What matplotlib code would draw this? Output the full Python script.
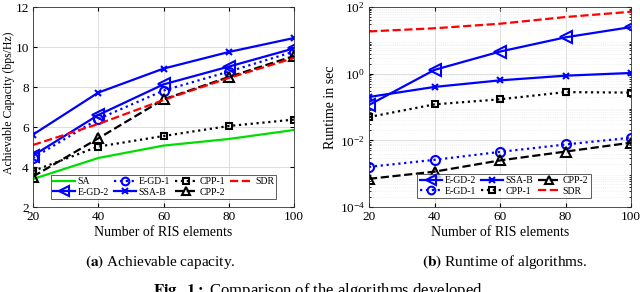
import matplotlib
matplotlib.use("Agg")
import matplotlib.pyplot as plt
import numpy as np

plt.rcParams["font.family"] = ["Liberation Serif", "DejaVu Serif"]
plt.rcParams["mathtext.fontset"] = "stix"

# RIS elements
n_ris = [20, 40, 60, 80, 100]

# (a) achievable capacity, bps/Hz
cap_sa = [3.4, 4.45, 5.07, 5.4, 5.85]
cap_egd1 = [4.45, 6.4, 7.82, 8.77, 9.77]
cap_cpp1 = [3.8, 5.02, 5.55, 6.05, 6.37]
cap_sdr = [5.1, 6.15, 7.35, 8.45, 9.45]
cap_egd2 = [4.57, 6.6, 8.13, 9.02, 9.93]
cap_ssab = [5.62, 7.72, 8.92, 9.75, 10.45]
cap_cpp2 = [3.52, 5.43, 7.38, 8.5, 9.55]

# (b) runtime, seconds
rt_egd2 = [0.115, 1.3, 4.6, 12.3, 25.0]
rt_ssab = [0.2, 0.4, 0.63, 0.87, 1.05]
rt_cpp2 = [0.0007, 0.00115, 0.0025, 0.0046, 0.0085]
rt_egd1 = [0.0016, 0.0026, 0.0045, 0.0075, 0.012]
rt_cpp1 = [0.05, 0.12, 0.17, 0.28, 0.27]
rt_sdr = [18.5, 23.0, 31.5, 50.0, 72.0]

styles = {
    "SA": dict(color="#00dd00", ls="-", marker=None),
    "E-GD-1": dict(color="blue", ls=":", marker="o"),
    "CPP-1": dict(color="black", ls=":", marker="s"),
    "SDR": dict(color="red", ls="--", marker=None),
    "E-GD-2": dict(color="blue", ls="-", marker="<"),
    "SSA-B": dict(color="blue", ls="-", marker="x"),
    "CPP-2": dict(color="black", ls="--", marker="^"),
}
msize = {"o": 6.5, "s": 5, "<": 8, "x": 5, "^": 7.5}


def draw(ax, name, y):
    st = styles[name]
    m = st["marker"]
    ax.plot(n_ris, y, color=st["color"], ls=st["ls"], lw=1.6,
            marker=m, ms=msize.get(m, 6), mfc="none", mew=1.5, label=name)


fig = plt.figure(figsize=(6.4, 2.92), dpi=100)
ax1 = fig.add_axes([33 / 640, 1 - 207 / 292, 261 / 640, 200 / 292])
ax2 = fig.add_axes([369 / 640, 1 - 207 / 292, 262 / 640, 200 / 292])

for name, y in [("SA", cap_sa), ("E-GD-2", cap_egd2), ("E-GD-1", cap_egd1),
                ("SSA-B", cap_ssab), ("CPP-1", cap_cpp1), ("CPP-2", cap_cpp2),
                ("SDR", cap_sdr)]:
    draw(ax1, name, y)

ax1.set_xlim(20, 100)
ax1.set_ylim(2, 12)
ax1.set_xticks(n_ris)
ax1.set_yticks([2, 4, 6, 8, 10, 12])
ax1.grid(True, color="#dddddd", lw=0.7)
ax1.set_xlabel("Number of RIS elements", fontsize=10, labelpad=2)
ax1.set_ylabel("Achievable Capacity (bps/Hz)", fontsize=8.5)
ax1.yaxis.set_label_coords(-0.07, 0.52)
leg_kw = dict(fontsize=7, handlelength=2.3, columnspacing=0.5,
              handletextpad=0.25, labelspacing=0.15, borderpad=0.25,
              fancybox=False, edgecolor="#333333", markerscale=0.85)
ax1.legend(ncol=4, loc="lower center", bbox_to_anchor=(0.5, 0.015), **leg_kw)

for name, y in [("E-GD-2", rt_egd2), ("E-GD-1", rt_egd1), ("SSA-B", rt_ssab),
                ("CPP-1", rt_cpp1), ("CPP-2", rt_cpp2), ("SDR", rt_sdr)]:
    draw(ax2, name, y)

ax2.set_yscale("log")
ax2.set_xlim(20, 100)
ax2.set_ylim(1e-4, 1e2)
ax2.set_xticks(n_ris)
ax2.set_yticks([1e-4, 1e-2, 1e0, 1e2])
ax2.grid(True, which="major", color="#dddddd", lw=0.7)
ax2.grid(True, which="minor", color="#e8e8e8", lw=0.5, ls=":")
ax2.set_xlabel("Number of RIS elements", fontsize=10, labelpad=2)
ax2.set_ylabel("Runtime in sec", fontsize=10, labelpad=2)
ax2.legend(ncol=3, loc="lower center", bbox_to_anchor=(0.515, 0.02), **leg_kw)

for ax in (ax1, ax2):
    ax.tick_params(direction="in", which="both", top=True, right=True,
                   labelsize=9.5, length=3, pad=3)
    ax.tick_params(which="minor", length=1.5)
    for sp in ax.spines.values():
        sp.set_color("#333333")
        sp.set_linewidth(0.6)
    ax.get_legend().get_frame().set_linewidth(0.7)

fig.text(160 / 640, 1 - 262 / 292, r"$\mathbf{(a)}$ Achievable capacity.",
         ha="center", va="center", fontsize=11)
fig.text(505 / 640, 1 - 262 / 292, r"$\mathbf{(b)}$ Runtime of algorithms.",
         ha="center", va="center", fontsize=11)
fig.text(320 / 640, 1 - 291 / 292, r"$\mathbf{Fig.\ 1:}$ Comparison of the algorithms developed.",
         ha="center", va="center", fontsize=12)

fig.savefig("out.png", dpi=100)
